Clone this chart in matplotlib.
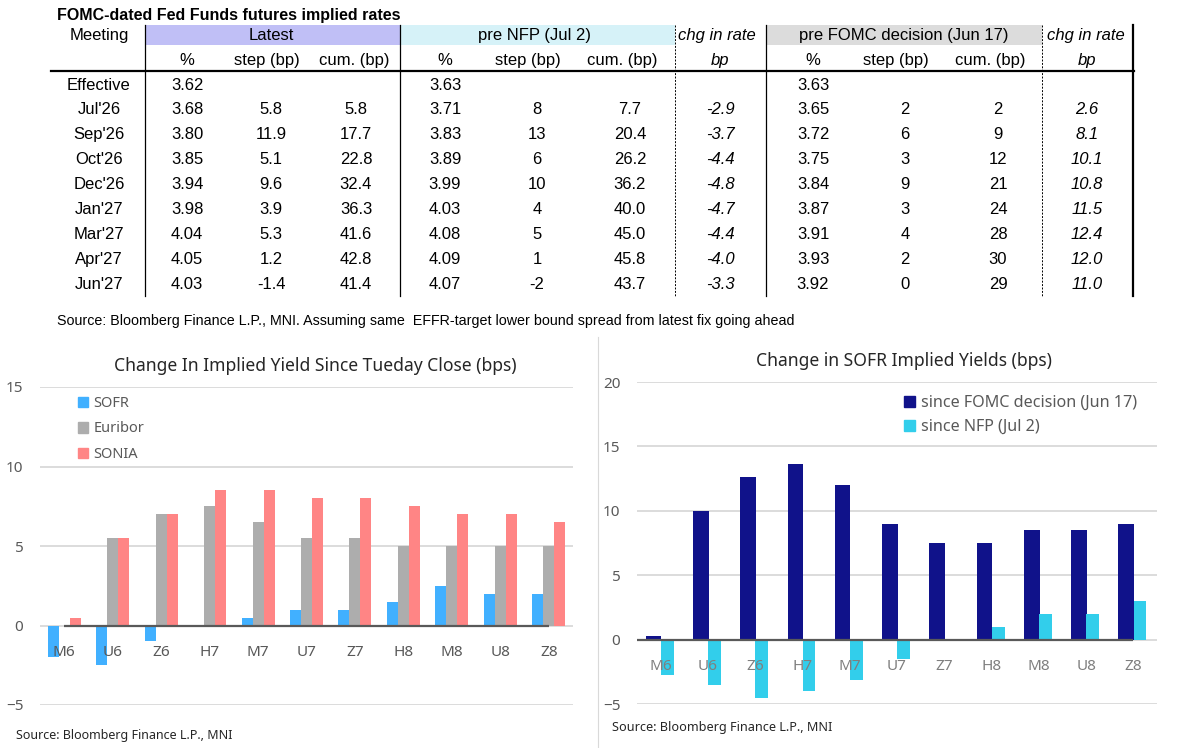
import numpy as np
import matplotlib
matplotlib.use('Agg')
import matplotlib.pyplot as plt
from matplotlib.patches import Rectangle, Patch
from matplotlib.lines import Line2D

# ---------------- data ----------------
meetings = ["Effective", "Jul'26", "Sep'26", "Oct'26", "Dec'26", "Jan'27", "Mar'27", "Apr'27", "Jun'27"]
latest_pct = [3.62, 3.68, 3.80, 3.85, 3.94, 3.98, 4.04, 4.05, 4.03]
latest_step = [None, 5.8, 11.9, 5.1, 9.6, 3.9, 5.3, 1.2, -1.4]
latest_cum = [None, 5.8, 17.7, 22.8, 32.4, 36.3, 41.6, 42.8, 41.4]
nfp_pct = [3.63, 3.71, 3.83, 3.89, 3.99, 4.03, 4.08, 4.09, 4.07]
nfp_step = [None, 8, 13, 6, 10, 4, 5, 1, -2]
nfp_cum = [None, 7.7, 20.4, 26.2, 36.2, 40.0, 45.0, 45.8, 43.7]
nfp_chg = [None, -2.9, -3.7, -4.4, -4.8, -4.7, -4.4, -4.0, -3.3]
fomc_pct = [3.63, 3.65, 3.72, 3.75, 3.84, 3.87, 3.91, 3.93, 3.92]
fomc_step = [None, 2, 6, 3, 9, 3, 4, 2, 0]
fomc_cum = [None, 2, 9, 12, 21, 24, 28, 30, 29]
fomc_chg = [None, 2.6, 8.1, 10.1, 10.8, 11.5, 12.4, 12.0, 11.0]

contracts = ["M6", "U6", "Z6", "H7", "M7", "U7", "Z7", "H8", "M8", "U8", "Z8"]
sofr = [-2.0, -2.5, -1.0, 0.0, 0.5, 1.0, 1.0, 1.5, 2.5, 2.0, 2.0]
euribor = [0.0, 5.5, 7.0, 7.5, 6.5, 5.5, 5.5, 5.0, 5.0, 5.0, 5.0]
sonia = [0.5, 5.5, 7.0, 8.5, 8.5, 8.0, 8.0, 7.5, 7.0, 7.0, 6.5]
since_fomc = [0.25, 10.0, 12.6, 13.6, 12.0, 9.0, 7.5, 7.5, 8.5, 8.5, 9.0]
since_nfp = [-2.75, -3.5, -4.5, -4.0, -3.1, -1.5, 0.0, 1.0, 2.0, 2.0, 3.0]

left_ticks = [-5, 0, 5, 10, 15]
right_ticks = [-5, 0, 5, 10, 15, 20]

# ---------------- figure ----------------
W, H = 1177, 748
fig = plt.figure(figsize=(W / 100, H / 100), dpi=100)
fig.patch.set_facecolor('white')

TF = ['Liberation Sans', 'DejaVu Sans']
CF = ['Noto Sans', 'DejaVu Sans']

# ---- table (pixel coordinates overlay) ----
tab = fig.add_axes([0, 0, 1, 1])
tab.set_xlim(0, W)
tab.set_ylim(H, 0)
tab.axis('off')

tab.text(57, 15, "FOMC-dated Fed Funds futures implied rates", fontsize=11.5,
         fontweight='bold', family=TF, ha='left', va='center')

# header bands
tab.add_patch(Rectangle((145, 25), 255, 20, facecolor='#C0BFF6', edgecolor='none'))
tab.add_patch(Rectangle((400, 25), 275, 20, facecolor='#D6F2F8', edgecolor='none'))
tab.add_patch(Rectangle((766, 25), 276, 20, facecolor='#DCDCDC', edgecolor='none'))

fs = 12
hy1, hy2 = 35, 60
tab.text(99, hy1, "Meeting", fontsize=fs, family=TF, ha='center', va='center')
tab.text(271, hy1, "Latest", fontsize=fs, family=TF, ha='center', va='center')
tab.text(535, hy1, "pre NFP (Jul 2)", fontsize=fs, family=TF, ha='center', va='center')
tab.text(717, hy1, "chg in rate", fontsize=fs, family=TF, style='italic', ha='center', va='center')
tab.text(904, hy1, "pre FOMC decision (Jun 17)", fontsize=fs, family=TF, ha='center', va='center')
tab.text(1086, hy1, "chg in rate", fontsize=fs, family=TF, style='italic', ha='center', va='center')

sub = [(187, "%"), (267, "step (bp)"), (354, "cum. (bp)"),
       (445, "%"), (528, "step (bp)"), (622, "cum. (bp)"),
       (813, "%"), (896, "step (bp)"), (990, "cum. (bp)")]
for x, s in sub:
    tab.text(x, hy2, s, fontsize=fs, family=TF, ha='center', va='center')
tab.text(720, hy2, "bp", fontsize=fs, family=TF, style='italic', ha='center', va='center')
tab.text(1087, hy2, "bp", fontsize=fs, family=TF, style='italic', ha='center', va='center')


def fmt(v, d):
    if v is None:
        return ""
    return f"{v:.{d}f}"


cols = [(187, latest_pct, 2, 'normal'), (271, latest_step, 1, 'normal'), (356, latest_cum, 1, 'normal'),
        (445, nfp_pct, 2, 'normal'), (537, nfp_step, 0, 'normal'), (630, nfp_cum, 1, 'normal'),
        (720, nfp_chg, 1, 'italic'),
        (813, fomc_pct, 2, 'normal'), (905, fomc_step, 0, 'normal'), (998, fomc_cum, 0, 'normal'),
        (1087, fomc_chg, 1, 'italic')]
row_y0, row_dy = 85, 24.9
for i, m in enumerate(meetings):
    y = row_y0 + i * row_dy
    tab.text(99, y, m, fontsize=fs, family=TF, ha='center', va='center')
    for x, arr, d, st in cols:
        tab.text(x, y, fmt(arr[i], d), fontsize=fs, family=TF, style=st, ha='center', va='center')

# table rules
tab.plot([51, 1134], [71, 71], color='black', lw=1.6)
for x in (145, 400, 766):
    tab.plot([x, x], [25, 296], color='black', lw=0.9)
for x in (675, 1042):
    tab.plot([x, x], [25, 296], color='black', lw=0.7, ls=(0, (2, 1.5)))
tab.plot([1133, 1133], [25, 296], color='black', lw=1.6)

tab.text(57, 321, "Source: Bloomberg Finance L.P., MNI. Assuming same  EFFR-target lower bound spread from latest fix going ahead",
         fontsize=10.3, family=TF, ha='left', va='center')

# right chart border
fig.add_artist(Line2D([598 / W, 598 / W], [0, 1 - 337 / H], color='#D9D9D9', lw=0.8))

GRID = '#D9D9D9'
ZERO = '#595959'
TXT = '#595959'

# ---- left chart ----
x = np.arange(len(contracts))
ax1 = fig.add_axes([40 / W, 1 - 705 / H, 533 / W, 318 / H])
bw = 0.227
ax1.bar(x - bw, sofr, bw, color='#41B0FF', label='SOFR', zorder=1)
ax1.bar(x, euribor, bw, color='#ADADAD', label='Euribor', zorder=1)
ax1.bar(x + bw, sonia, bw, color='#FF8585', label='SONIA', zorder=1)
ax1.set_xlim(-0.5, len(contracts) - 0.5)
ax1.set_ylim(left_ticks[0], left_ticks[-1])
for t in left_ticks:
    ax1.axhline(t, color=GRID, lw=1.3, zorder=0)
ax1.hlines(0, x[0], x[-1], color=ZERO, lw=1.6, zorder=3)
ax1.set_yticks(left_ticks)
ax1.set_xticks(x)
ax1.set_xticklabels(contracts)
for s in ax1.spines.values():
    s.set_visible(False)
ax1.spines['bottom'].set_position(('data', 0))
ax1.tick_params(axis='x', length=0, pad=14, labelsize=11, colors=TXT)
ax1.tick_params(axis='y', length=0, pad=12, labelsize=11, colors=TXT)
for lab in ax1.get_xticklabels() + ax1.get_yticklabels():
    lab.set_family(CF)
ax1.xaxis.set_zorder(5)
ax1.set_facecolor('none')
h1 = [Patch(color='#41B0FF'), Patch(color='#ADADAD'), Patch(color='#FF8585')]
ax1.legend(h1, ['SOFR', 'Euribor', 'SONIA'], loc='upper left',
           bbox_to_anchor=(78 / W, 1 - 396 / H), bbox_transform=fig.transFigure,
           frameon=False, prop={'family': CF, 'size': 10.5}, labelcolor=TXT,
           handlelength=0.7, handleheight=0.7, handletextpad=0.35,
           labelspacing=0.72, borderpad=0, borderaxespad=0)
fig.text(315 / W, 1 - 366 / H, "Change In Implied Yield Since Tueday Close (bps)",
         fontsize=12.6, family=CF, ha='center', va='center', color='#262626')
fig.text(16 / W, 1 - 736 / H, "Source: Bloomberg Finance L.P., MNI",
         fontsize=9, family=CF, ha='left', va='center', color='#262626')

# ---- right chart ----
ax2 = fig.add_axes([637 / W, 1 - 704 / H, 520 / W, 322 / H])
ax2.bar(x - 0.15, since_fomc, 0.33, color='#10128A', zorder=1)
ax2.bar(x + 0.14, since_nfp, 0.27, color='#32CEEB', zorder=1)
ax2.set_xlim(-0.5, len(contracts) - 0.5)
ax2.set_ylim(right_ticks[0], right_ticks[-1])
for t in right_ticks:
    ax2.axhline(t, color=GRID, lw=1.3, zorder=0)
ax2.hlines(0, -0.5, x[-1], color=ZERO, lw=1.6, zorder=3)
ax2.set_yticks(right_ticks)
ax2.set_xticks(x)
ax2.set_xticklabels(contracts)
for s in ax2.spines.values():
    s.set_visible(False)
ax2.spines['bottom'].set_position(('data', 0))
ax2.tick_params(axis='x', length=0, pad=14, labelsize=11, colors='#7F7F7F')
ax2.tick_params(axis='y', length=0, pad=12, labelsize=11, colors=TXT)
for lab in ax2.get_xticklabels() + ax2.get_yticklabels():
    lab.set_family(CF)
ax2.xaxis.set_zorder(5)
ax2.set_facecolor('none')
h2 = [Patch(color='#10128A'), Patch(color='#32CEEB')]
ax2.legend(h2, ['since FOMC decision (Jun 17)', 'since NFP (Jul 2)'], loc='upper left',
           bbox_to_anchor=(904 / W, 1 - 395 / H), bbox_transform=fig.transFigure,
           frameon=False, prop={'family': CF, 'size': 11.6}, labelcolor=TXT,
           handlelength=0.7, handleheight=0.7, handletextpad=0.35,
           labelspacing=0.5, borderpad=0, borderaxespad=0)
fig.text(904 / W, 1 - 361 / H, "Change in SOFR Implied Yields (bps)",
         fontsize=12.6, family=CF, ha='center', va='center', color='#262626')
fig.text(612 / W, 1 - 728 / H, "Source: Bloomberg Finance L.P., MNI",
         fontsize=9.1, family=CF, ha='left', va='center', color='#262626')

fig.savefig('out.png', dpi=100)
